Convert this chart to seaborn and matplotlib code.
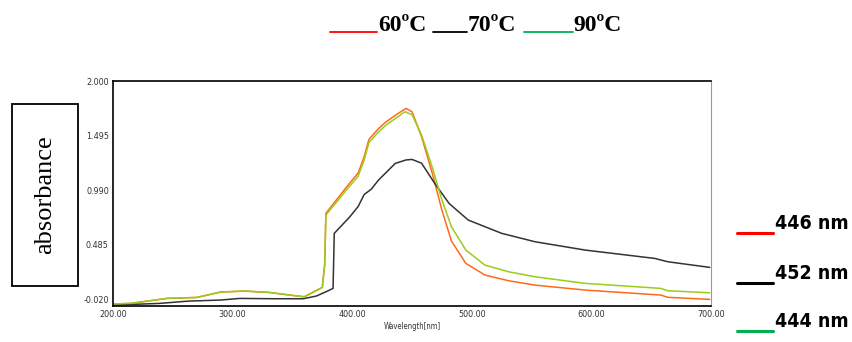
import pandas as pd
import matplotlib.pyplot as plt
import seaborn as sns
from matplotlib.patches import Rectangle

# spectres UV-visible
wl_60 = [200, 215, 245, 270, 290, 310, 330, 350, 360, 375, 377, 378, 395, 405, 410, 414, 422, 428, 437, 445,
         450, 458, 467, 475, 483, 495, 511, 531, 553, 595, 658, 664, 699]
abs_60 = [-0.063, -0.057, -0.011, -0.002, 0.048, 0.057, 0.045, 0.017, 0.004, 0.091, 0.30, 0.776, 1.016, 1.15,
          1.30, 1.46, 1.56, 1.62, 1.69, 1.747, 1.716, 1.485, 1.146, 0.806, 0.52, 0.313, 0.205, 0.152, 0.112,
          0.066, 0.020, -0.001, -0.020]

wl_70 = [200, 239, 263, 290, 306, 334, 359, 370, 378, 384, 385, 398, 405, 410, 416, 422, 436, 445, 450, 458,
         469, 481, 497, 525, 553, 595, 653, 664, 699]
abs_70 = [-0.073, -0.057, -0.036, -0.026, -0.011, -0.014, -0.014, 0.011, 0.050, 0.082, 0.591, 0.744, 0.84,
          0.95, 1.00, 1.084, 1.238, 1.27, 1.275, 1.24, 1.053, 0.868, 0.714, 0.591, 0.513, 0.436, 0.359, 0.328,
          0.276]

wl_90 = [200, 215, 245, 270, 290, 310, 330, 350, 360, 375, 377, 378, 395, 405, 410, 414, 422, 428, 437, 444,
         450, 458, 467, 475, 483, 495, 511, 531, 553, 595, 658, 664, 699]
abs_90 = [-0.063, -0.057, -0.011, -0.002, 0.048, 0.057, 0.045, 0.017, 0.004, 0.091, 0.30, 0.76, 0.99, 1.12,
          1.27, 1.43, 1.53, 1.59, 1.66, 1.716, 1.69, 1.50, 1.20, 0.90, 0.652, 0.436, 0.297, 0.235, 0.189,
          0.128, 0.082, 0.060, 0.041]

yticks = [-0.020, 0.485, 0.990, 1.495, 2.000]
xticks = [200, 300, 400, 500, 600, 700]

df = pd.concat([
    pd.DataFrame({"wl": wl_60, "abs": abs_60, "serie": "60"}),
    pd.DataFrame({"wl": wl_70, "abs": abs_70, "serie": "70"}),
    pd.DataFrame({"wl": wl_90, "abs": abs_90, "serie": "90"}),
])

sns.set_style("white")
plt.rcParams["text.color"] = "black"
plt.rcParams["xtick.color"] = "#333333"
plt.rcParams["ytick.color"] = "#333333"
fig = plt.figure(figsize=(8.53, 3.42), dpi=100)
ax = fig.add_axes([0.1325, 0.105, 0.701, 0.658])
sns.lineplot(data=df, x="wl", y="abs", hue="serie", sort=False, estimator=None, legend=False,
             palette={"60": "#ff6a1a", "70": "#333333", "90": "#9acd1a"}, linewidth=1.1, ax=ax)

ax.set_xlim(200, 700)
ax.set_ylim(-0.082, 2.0)
ax.set_xticks(xticks)
ax.set_xticklabels([f"{v:.2f}" for v in xticks])
ax.set_yticks(yticks)
ax.set_yticklabels([f"{v:.3f}" for v in yticks])
ax.tick_params(labelsize=6.5, length=0, pad=3)
for lab in ax.get_xticklabels() + ax.get_yticklabels():
    lab.set_fontstretch("condensed")
ax.set_xlabel("Wavelength[nm]", fontsize=5.5, labelpad=2, fontstretch="condensed", color="#333333")
ax.set_ylabel("")
for s in ["left", "top", "bottom"]:
    ax.spines[s].set_color("black")
    ax.spines[s].set_linewidth(1.2)
ax.spines["right"].set_color("#999999")

# boite "absorbance"
fig.patches.append(Rectangle((12 / 853, 1 - 286 / 342), 66 / 853, 182 / 342, transform=fig.transFigure,
                             fill=False, edgecolor="black", linewidth=1.3))
fig.text(45 / 853, 1 - 195 / 342, "absorbance", rotation=90, ha="center", va="center",
         fontsize=19, family="Liberation Serif")

# titre avec traits colores
def trait(x0, x1, y, c, w=1.3):
    fig.add_artist(plt.Line2D([x0 / 853, x1 / 853], [1 - y / 342, 1 - y / 342], color=c, linewidth=w,
                              transform=fig.transFigure))

trait(330, 377, 32, "#ff0000")
fig.text(378 / 853, 1 - 31 / 342, "60ºC", fontsize=17, fontweight="bold", family="Liberation Serif", va="baseline")
trait(433, 467, 32, "black")
fig.text(468 / 853, 1 - 31 / 342, "70ºC", fontsize=17, fontweight="bold", family="Liberation Serif", va="baseline")
trait(524, 573, 32, "#00b050")
fig.text(573 / 853, 1 - 31 / 342, "90ºC", fontsize=17, fontweight="bold", family="Liberation Serif", va="baseline")

# legende a droite
for y_l, y_t, c, t in [(233, 229, "#ff0000", "446 nm"), (283, 279, "black", "452 nm"), (331, 327, "#00b050", "444 nm")]:
    trait(737, 773, y_l, c, w=2.2)
    fig.text(775 / 853, 1 - y_t / 342, t, fontsize=14, fontweight="bold", fontstretch="condensed",
             family="DejaVu Sans", va="baseline")

plt.savefig("out.png", dpi=100)
